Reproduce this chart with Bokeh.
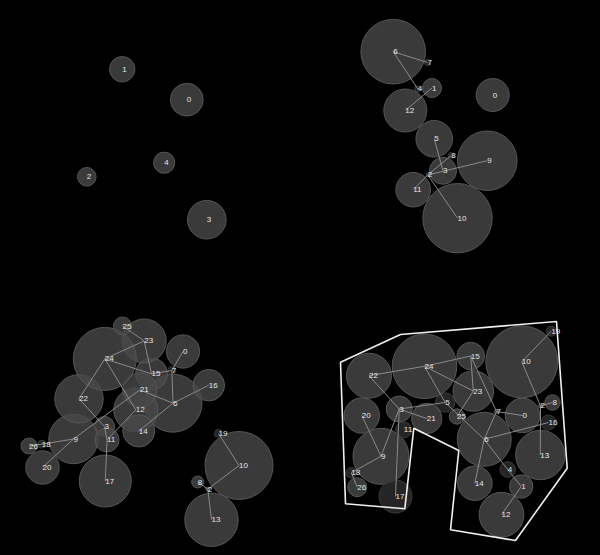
from bokeh.plotting import figure
from bokeh.models import Range1d, ColumnDataSource
from bokeh.embed import file_html
from bokeh.resources import INLINE
from bokeh.core.properties import value

# ---------------- data (node positions in each panel's own frame) ----------------
# Panel 1 : nodes only
p1_id = [0, 1, 2, 3, 4]
p1_x = [186.3, 121.7, 86.3, 206.3, 163.7]
p1_y = [99.2, 68.7, 176.3, 219.2, 162.2]
p1_r = [16.4, 12.7, 9.3, 19.3, 10.6]
p1_links = []

# Panel 2 : 13 nodes with links
p2_id = list(range(13))
p2_x = [192.2, 131.5, 127.3, 142.5, 117.3, 133.7, 92.7, 127.0, 150.7, 186.8, 157.0, 112.7, 104.8]
p2_y = [94.5, 87.5, 174.4, 170.3, 88.4, 138.3, 51.2, 62.0, 155.0, 160.2, 217.7, 189.2, 110.0]
p2_r = [16.5, 9.5, 2.0, 13.5, 3.0, 18.3, 32.3, 3.0, 3.0, 29.8, 34.7, 17.3, 21.5]
p2_links = [(6, 7), (6, 4), (1, 12), (5, 3), (2, 8), (2, 9), (2, 10), (2, 11)]

# Panel 3 : larger graph
p3_id = [0, 2, 3, 6, 7, 8, 9, 10, 11, 12, 13, 14, 15, 16, 17, 18, 19, 20, 21, 22, 23, 24, 25, 26]
p3_x = [182.5, 207.3, 104.0, 172.5, 171.3, 197.2, 73.0, 238.5, 106.5, 135.3, 211.0, 138.3,
        151.0, 208.3, 104.8, 41.3, 218.0, 42.0, 139.3, 78.5, 143.7, 104.3, 122.0, 28.5]
p3_y = [51.0, 188.7, 126.0, 102.7, 70.0, 181.5, 138.5, 165.0, 139.4, 109.4, 219.3, 130.5,
        73.4, 84.7, 180.5, 143.7, 133.0, 167.0, 89.4, 98.3, 40.4, 58.4, 25.5, 145.5]
p3_r = [16.6, 2.0, 10.0, 29.0, 4.0, 6.0, 24.7, 34.0, 12.0, 22.0, 26.7, 16.0,
        16.0, 15.8, 26.0, 4.0, 4.0, 16.7, 17.0, 24.2, 22.0, 31.5, 9.0, 8.0]
p3_links = [(25, 23), (23, 24), (23, 15), (24, 15), (15, 7), (0, 7), (7, 6), (6, 16),
            (6, 14), (21, 6), (24, 22), (24, 12), (22, 3), (3, 11), (11, 12), (11, 17),
            (9, 18), (18, 26), (20, 9), (9, 21), (19, 10), (10, 2), (2, 8), (2, 13)]

# Panel 4 : packed graph with group hull
p4_id = list(range(27))
p4_x = [222.0, 220.7, 240.0, 98.7, 207.2, 144.7, 183.7, 196.0, 252.0, 80.5, 221.3, 103.3,
        201.0, 239.8, 174.3, 170.2, 248.0, 95.0, 50.8, 250.7, 61.3, 126.2, 68.5, 172.8,
        124.0, 156.5, 56.7]
p4_y = [115.0, 186.0, 105.4, 108.5, 169.0, 102.0, 138.8, 111.0, 102.0, 155.8, 61.3, 129.4,
        214.2, 154.5, 182.7, 55.5, 122.0, 196.0, 172.2, 30.7, 115.0, 118.0, 75.2, 90.5,
        65.8, 116.0, 186.7]
p4_r = [17.3, 11.7, 2.0, 13.0, 7.8, 9.7, 27.0, 2.0, 7.7, 28.0, 36.0, 8.0,
        22.4, 24.7, 17.3, 13.8, 7.5, 16.5, 5.3, 5.0, 17.7, 15.2, 22.5, 20.3,
        32.3, 7.7, 9.5]
p4_dim = [4, 5, 11, 16, 17, 18, 19]
p4_links = [(19, 10), (10, 2), (2, 8), (2, 13), (22, 24), (24, 15), (24, 23), (15, 23),
            (15, 7), (23, 25), (24, 5), (22, 3), (3, 5), (3, 21), (3, 9), (3, 17),
            (20, 9), (9, 18), (18, 26), (7, 0), (7, 6), (6, 16), (6, 14), (6, 4),
            (4, 1), (1, 12), (5, 6)]
hull_x = [40.0, 100.0, 256.0, 266.7, 215.0, 150.0, 158.3, 113.3, 104.3, 45.0]
hull_y = [61.7, 34.0, 21.0, 167.7, 240.0, 229.3, 150.0, 127.7, 208.3, 203.3]

# ---------------- layout ----------------
PAD = 8
W, H = 584, 539
p = figure(width=W, height=H, output_backend="svg", toolbar_location=None,
           x_range=Range1d(PAD, PAD + W), y_range=Range1d(PAD + H, PAD),
           x_axis_location=None, y_axis_location=None, min_border=0,
           background_fill_color="black", border_fill_color="black",
           outline_line_color=None)
p.grid.visible = False

panels = [
    (0, 0, p1_id, p1_x, p1_y, p1_r, p1_links, []),
    (300, 0, p2_id, p2_x, p2_y, p2_r, p2_links, [2, 4, 7, 8]),
    (0, 300, p3_id, p3_x, p3_y, p3_r, p3_links, [7, 18, 19]),
    (300, 300, p4_id, p4_x, p4_y, p4_r, p4_links, p4_dim),
]

for ox, oy, ids, xs, ys, rs, links, dim in panels:
    gx = [ox + v for v in xs]
    gy = [oy + v for v in ys]
    fills = ["#2e2e2e" if i in dim else "#494949" for i in ids]
    strokes = ["#3a3a3a" if i in dim else "#565656" for i in ids]
    src = ColumnDataSource(dict(x=gx, y=gy, r=rs, fill=fills, stroke=strokes,
                                label=[str(i) for i in ids]))
    p.circle(x="x", y="y", radius="r", source=src, fill_color="fill", fill_alpha=0.8,
             line_color="stroke", line_width=1)
    pos = {i: (a, b) for i, a, b in zip(ids, gx, gy)}
    if links:
        x0 = [pos[s][0] for s, t in links]
        y0 = [pos[s][1] for s, t in links]
        x1 = [pos[t][0] for s, t in links]
        y1 = [pos[t][1] for s, t in links]
        p.segment(x0=x0, y0=y0, x1=x1, y1=y1, line_color="#8a8a8a", line_width=1)
    p.text(x="x", y="y", text="label", source=src, text_font=value("Liberation Sans"),
           text_font_size="8px", text_color="#e6e6e6", text_align="left",
           text_baseline="alphabetic")

p.patch(x=[300 + v for v in hull_x], y=[300 + v for v in hull_y], fill_color=None,
        line_color="#f0f0f0", line_width=1.6)

tmpl = ("{% block postamble %}<style>html, body { background-color: #000 !important; } "
        "body { margin: 0 !important; padding: 8px !important; box-sizing: border-box; }"
        "</style>{% endblock %}")
open("out.html", "w").write(file_html(p, INLINE, title="force layouts", template=tmpl))
